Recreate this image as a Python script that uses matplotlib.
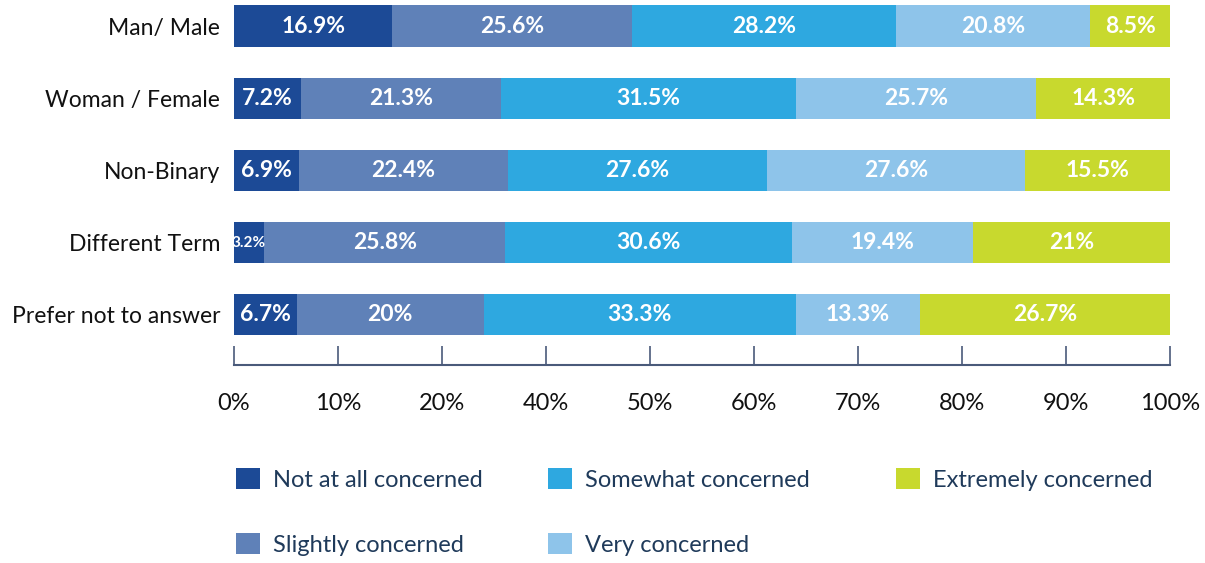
import numpy as np
import matplotlib
matplotlib.use("Agg")
import matplotlib.pyplot as plt
from matplotlib.patches import Patch

plt.rcParams['font.family'] = ['Lato', 'DejaVu Sans']

# groups, top to bottom
groups = ["Man/ Male", "Woman / Female", "Non-Binary", "Different Term", "Prefer not to answer"]

not_at_all = [16.9, 7.2, 6.9, 3.2, 6.7]
slightly = [25.6, 21.3, 22.4, 25.8, 20]
somewhat = [28.2, 31.5, 27.6, 30.6, 33.3]
very = [20.8, 25.7, 27.6, 19.4, 13.3]
extremely = [8.5, 14.3, 15.5, 21, 26.7]

series_names = ["Not at all concerned", "Slightly concerned", "Somewhat concerned",
                "Very concerned", "Extremely concerned"]
colors = ["#1c4a96", "#5f81b8", "#2ea8e0", "#8ec4ea", "#c8d92e"]

# tick labels as printed on the original axis (30% is skipped there)
tick_labels = ["0%", "10%", "20%", "40%", "50%", "60%", "70%", "80%", "90%", "100%"]

fig = plt.figure(figsize=(12.05, 5.63), dpi=100)
ax = fig.add_axes([234 / 1205, 1 - 365 / 563, 936 / 1205, 365 / 563])

series = [not_at_all, slightly, somewhat, very, extremely]
y = np.arange(len(groups))
left = np.zeros(len(groups))
for vals, name, col in zip(series, series_names, colors):
    vals = np.array(vals, dtype=float)
    ax.barh(y, vals, left=left, height=0.57, color=col, label=name)
    for yi, l, v in zip(y, left, vals):
        txt = f"{v:g}%"
        small = v < 5
        ax.text(l + v / 2, yi, txt, ha="center", va="center", color="white",
                fontsize=11 if small else 16.5, fontweight="bold")
    left += vals

ax.set_xlim(0, 100)
ax.set_ylim(4 + 50 / 72, -26 / 72)
ax.set_yticks(y)
ax.set_yticklabels(groups, fontsize=16.5, color="#111111")
ax.tick_params(axis="y", length=0, pad=10)

ax.set_xticks(np.linspace(0, 100, len(tick_labels)))
ax.set_xticklabels(tick_labels, fontsize=17, color="#111111")
ax.tick_params(axis="x", direction="in", length=14, width=1.2, color="#4a5a7a", pad=20)

for s in ["top", "right", "left"]:
    ax.spines[s].set_visible(False)
ax.spines["bottom"].set_color("#4a5a7a")
ax.spines["bottom"].set_linewidth(1.5)

# legend, three columns placed like the original
handles = [Patch(facecolor=c, edgecolor="none") for c in colors]
cols = [(0, 2, 236), (2, 4, 548), (4, 5, 896)]
for a, b, xpx in cols:
    leg = fig.legend(handles[a:b], series_names[a:b], loc="upper left",
                     bbox_to_anchor=(xpx / 1205, 1 - 468 / 563), frameon=False,
                     fontsize=17, handlelength=1.0, handleheight=1.0,
                     handletextpad=0.55, labelspacing=1.8, borderpad=0, borderaxespad=0)
    for t in leg.get_texts():
        t.set_color("#1f3a5a")

fig.savefig("out.png", dpi=100)
